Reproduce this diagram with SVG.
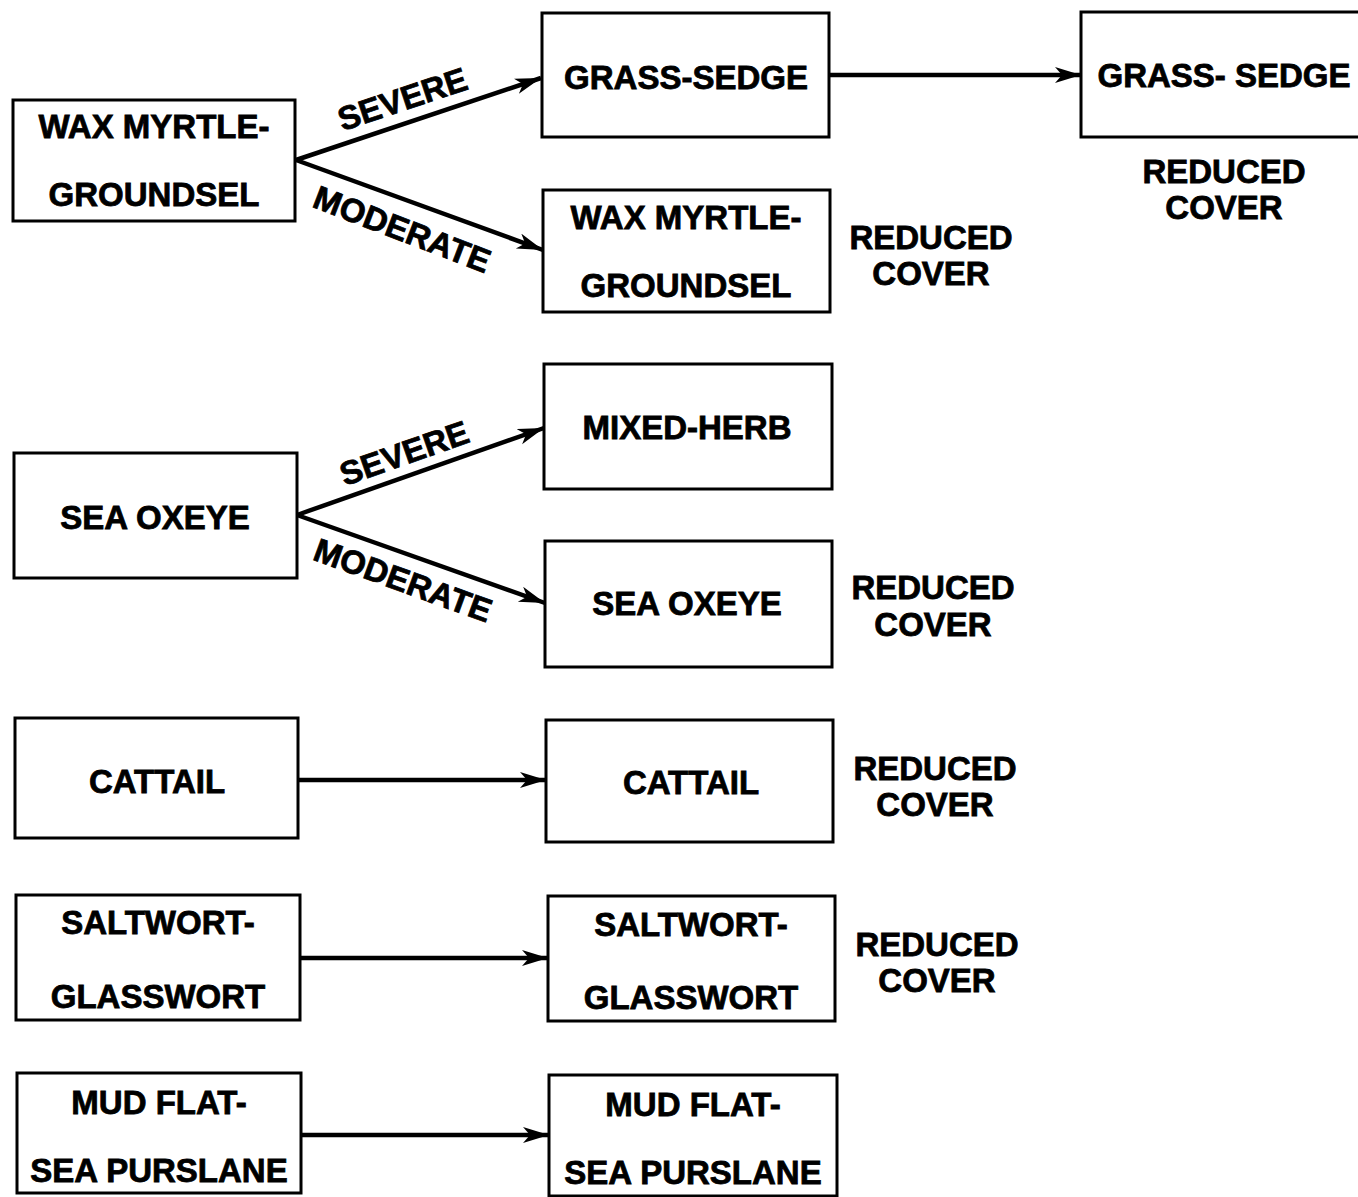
<svg xmlns="http://www.w3.org/2000/svg" width="1358" height="1197" viewBox="0 0 1358 1197">
<style>
.box{fill:#fff;stroke:#000;stroke-width:3}
.t{font-family:"Liberation Sans",Arial,sans-serif;font-weight:bold;font-size:33px;fill:#000;stroke:#000;stroke-width:0.8;text-anchor:middle}
.c{stroke:#000;stroke-width:4.5;fill:none}
</style>
<defs>
<marker id="ah" markerUnits="userSpaceOnUse" markerWidth="28" markerHeight="18" refX="26" refY="8" orient="auto">
<path d="M0,0 L26,8 L0,16 L7,8 Z" fill="#000"/>
</marker>
</defs>
<rect width="1358" height="1197" fill="#fff"/>
<g id="connectors">
<line class="c" x1="296" y1="160" x2="541" y2="78" marker-end="url(#ah)"/>
<line class="c" x1="296" y1="160" x2="543" y2="250" marker-end="url(#ah)"/>
<line class="c" x1="829" y1="75" x2="1081" y2="75" marker-end="url(#ah)"/>
<line class="c" x1="297" y1="515" x2="544" y2="428" marker-end="url(#ah)"/>
<line class="c" x1="297" y1="515" x2="545" y2="603" marker-end="url(#ah)"/>
<line class="c" x1="298" y1="780" x2="546" y2="780" marker-end="url(#ah)"/>
<line class="c" x1="300" y1="958" x2="548" y2="958" marker-end="url(#ah)"/>
<line class="c" x1="301" y1="1135" x2="549" y2="1135" marker-end="url(#ah)"/>
<text class="t" transform="translate(406,110) rotate(-18.4)">SEVERE</text>
<text class="t" transform="translate(398,240) rotate(21)">MODERATE</text>
<text class="t" transform="translate(408,464) rotate(-19.4)">SEVERE</text>
<text class="t" transform="translate(399,591) rotate(20)">MODERATE</text>
</g>
<g id="n1"><rect class="box" x="13" y="100" width="282" height="121"/><text class="t" x="154" y="138">WAX MYRTLE-</text><text class="t" x="154" y="206">GROUNDSEL</text></g>
<g id="n2"><rect class="box" x="542" y="13" width="287" height="124"/><text class="t" x="686" y="89">GRASS-SEDGE</text></g>
<g id="n3"><rect class="box" x="1081" y="12" width="290" height="125"/><text class="t" x="1224" y="87">GRASS- SEDGE</text><text class="t" x="1224" y="183">REDUCED</text><text class="t" x="1224" y="219">COVER</text></g>
<g id="n4"><rect class="box" x="543" y="190" width="287" height="122"/><text class="t" x="686" y="229">WAX MYRTLE-</text><text class="t" x="686" y="297">GROUNDSEL</text><text class="t" x="931" y="249">REDUCED</text><text class="t" x="931" y="285">COVER</text></g>
<g id="n5"><rect class="box" x="544" y="364" width="288" height="125"/><text class="t" x="687" y="439">MIXED-HERB</text></g>
<g id="n6"><rect class="box" x="14" y="453" width="283" height="125"/><text class="t" x="155" y="529">SEA OXEYE</text></g>
<g id="n7"><rect class="box" x="545" y="541" width="287" height="126"/><text class="t" x="687" y="615">SEA OXEYE</text><text class="t" x="933" y="599">REDUCED</text><text class="t" x="933" y="636">COVER</text></g>
<g id="n8"><rect class="box" x="15" y="718" width="283" height="120"/><text class="t" x="157" y="793">CATTAIL</text></g>
<g id="n9"><rect class="box" x="546" y="720" width="287" height="122"/><text class="t" x="691" y="794">CATTAIL</text><text class="t" x="935" y="780">REDUCED</text><text class="t" x="935" y="816">COVER</text></g>
<g id="n10"><rect class="box" x="16" y="895" width="284" height="125"/><text class="t" x="158" y="934">SALTWORT-</text><text class="t" x="158" y="1008">GLASSWORT</text></g>
<g id="n11"><rect class="box" x="548" y="896" width="287" height="125"/><text class="t" x="691" y="936">SALTWORT-</text><text class="t" x="691" y="1009">GLASSWORT</text><text class="t" x="937" y="956">REDUCED</text><text class="t" x="937" y="992">COVER</text></g>
<g id="n12"><rect class="box" x="17" y="1073" width="284" height="120"/><text class="t" x="159" y="1114">MUD FLAT-</text><text class="t" x="159" y="1182">SEA PURSLANE</text></g>
<g id="n13"><rect class="box" x="549" y="1075" width="288" height="121"/><text class="t" x="693" y="1116">MUD FLAT-</text><text class="t" x="693" y="1184">SEA PURSLANE</text></g>
</svg>
